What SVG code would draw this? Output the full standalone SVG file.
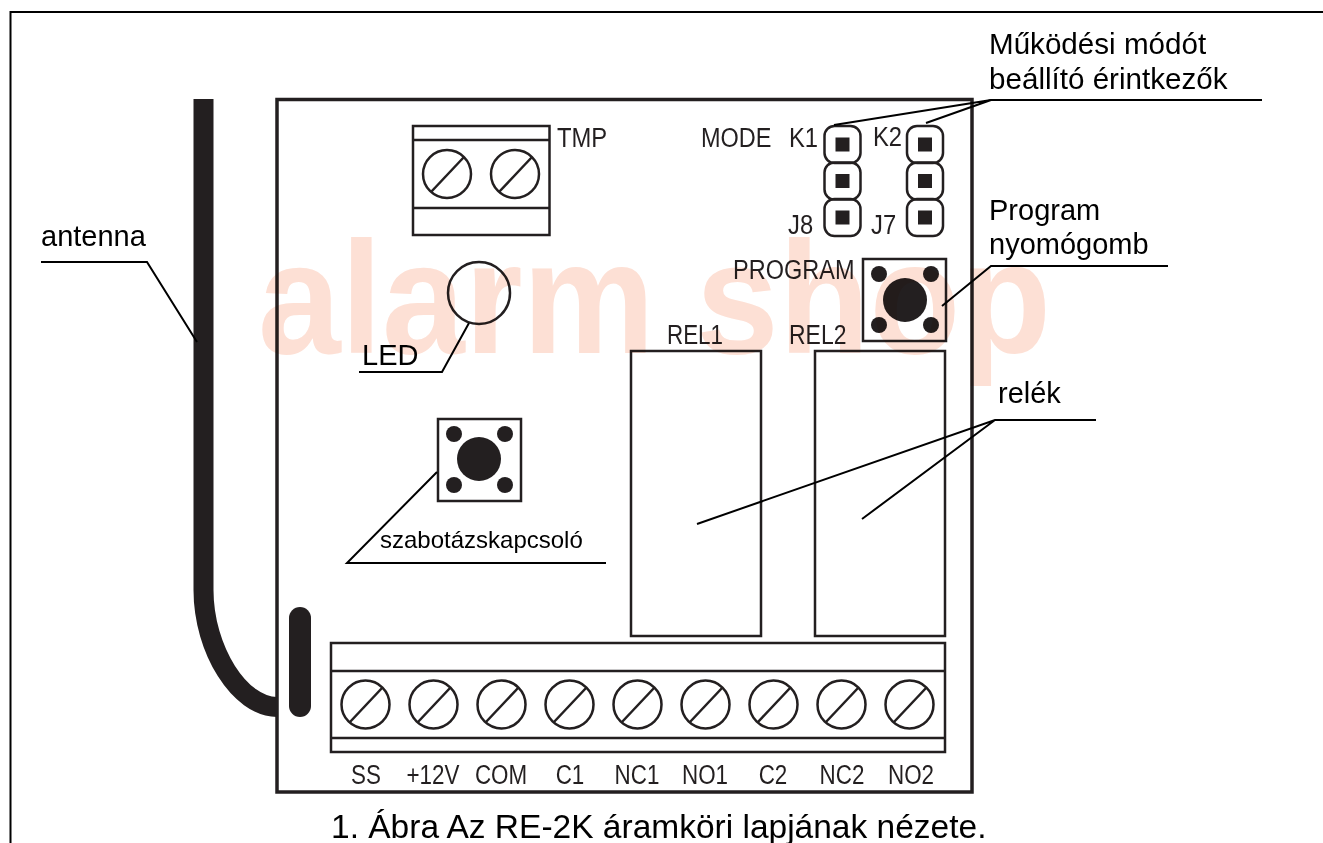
<svg xmlns="http://www.w3.org/2000/svg" width="1323" height="843" viewBox="0 0 1323 843">
<style>
.s{fill:none;stroke:#231f20;stroke-width:2.500}
.l{fill:none;stroke:#000;stroke-width:2}
.lb{font-family:"Liberation Sans",Arial,sans-serif;font-size:29px;fill:#000}
.p{font-family:"Liberation Sans",Arial,sans-serif;font-size:28px;fill:#231f20}
.d{fill:#231f20}
.pin{fill:none;stroke:#231f20;stroke-width:2.500}
</style>
<defs>
<g id="screw"><circle r="24" class="s"/><path d="M-16 18L17-17" class="s"/></g>
<g id="pin"><rect x="-18" y="-18.500" width="36" height="37" rx="10" class="pin"/><rect x="-7" y="-7" width="14" height="14" class="d"/></g>
</defs>
<rect width="1323" height="843" fill="#fff"/>
<path id="frame" d="M10.500 843V12H1323" fill="none" stroke="#000" stroke-width="2"/>
<g id="antenna"><path d="M203.500 99V590C203.500 650 240 707 277 707" fill="none" stroke="#231f20" stroke-width="20"/></g>
<g id="board"><rect x="277" y="99.500" width="695" height="692.500" fill="#fff" stroke="#231f20" stroke-width="3.500"/><rect x="289" y="607" width="22" height="110" rx="11" class="d"/></g>
<g id="tmp-terminal"><rect x="413" y="126" width="136.500" height="109" class="s"/><path d="M413 140H549M413 208H549" class="s"/><use href="#screw" x="447" y="174"/><use href="#screw" x="515" y="174"/><text class="p" transform="translate(557 147) scale(.85 1)">TMP</text></g>
<g id="led"><circle cx="479" cy="293" r="31" class="s"/></g>
<g id="tamper"><rect x="438" y="419" width="83" height="82" class="s"/><circle cx="479" cy="459" r="22" class="d"/><circle cx="454" cy="434" r="8" class="d"/><circle cx="505" cy="434" r="8" class="d"/><circle cx="454" cy="485" r="8" class="d"/><circle cx="505" cy="485" r="8" class="d"/></g>
<g id="mode"><text class="p" transform="translate(701 147) scale(.84 1)">MODE</text><text class="p" transform="translate(789 147) scale(.85 1)">K1</text><text class="p" transform="translate(873 146) scale(.85 1)">K2</text><text class="p" transform="translate(788 234) scale(.85 1)">J8</text><text class="p" transform="translate(871 234) scale(.85 1)">J7</text>
<use href="#pin" x="842.500" y="144.500"/><use href="#pin" x="842.500" y="181"/><use href="#pin" x="842.500" y="217.500"/><use href="#pin" x="925" y="144.500"/><use href="#pin" x="925" y="181"/><use href="#pin" x="925" y="217.500"/></g>
<g id="program"><text class="p" transform="translate(733 279) scale(.84 1)">PROGRAM</text><rect x="863" y="259" width="83" height="82" class="s"/><circle cx="905" cy="300" r="22" class="d"/><circle cx="879" cy="274" r="8" class="d"/><circle cx="931" cy="274" r="8" class="d"/><circle cx="879" cy="325" r="8" class="d"/><circle cx="931" cy="325" r="8" class="d"/></g>
<g id="rel1"><text class="p" transform="translate(667 344) scale(.8 1)">REL1</text><rect x="631" y="351" width="130" height="285" class="s"/></g>
<g id="rel2"><text class="p" transform="translate(789 344) scale(.82 1)">REL2</text><rect x="815" y="351" width="130" height="285" class="s"/></g>
<g id="terminal"><rect x="331" y="643" width="614" height="109" class="s"/><path d="M331 671H945M331 738H945" class="s"/>
<use href="#screw" x="365.500" y="704.500"/><use href="#screw" x="433.500" y="704.500"/><use href="#screw" x="501.500" y="704.500"/><use href="#screw" x="569.500" y="704.500"/><use href="#screw" x="637.500" y="704.500"/><use href="#screw" x="705.500" y="704.500"/><use href="#screw" x="773.500" y="704.500"/><use href="#screw" x="841.500" y="704.500"/><use href="#screw" x="909.500" y="704.500"/>
<g class="p" text-anchor="middle"><text transform="translate(366 784) scale(.8 1)">SS</text><text transform="translate(433 784) scale(.8 1)">+12V</text><text transform="translate(501 784) scale(.8 1)">COM</text><text transform="translate(570 784) scale(.8 1)">C1</text><text transform="translate(637 784) scale(.8 1)">NC1</text><text transform="translate(705 784) scale(.8 1)">NO1</text><text transform="translate(773 784) scale(.8 1)">C2</text><text transform="translate(842 784) scale(.8 1)">NC2</text><text transform="translate(911 784) scale(.8 1)">NO2</text></g></g>
<g id="connectors">
<path class="l" d="M1262 100H991L834 125M991 100L926 123"/>
<path class="l" d="M1168 266H991L942 306"/>
<path class="l" d="M1096 420H995L697 524M995 420L862 519"/>
<path class="l" d="M41 262H147L197 342"/>
<path class="l" d="M359 372H442L469 323"/>
<path class="l" d="M606 563H347L437 472"/>
</g>
<g id="labels">
<text class="lb" style="font-size:29.600px" x="989" y="54">Működési módót</text><text class="lb" style="font-size:29.600px" x="989" y="89">beállító érintkezők</text>
<text class="lb" x="989" y="220">Program</text><text class="lb" x="989" y="254">nyomógomb</text>
<text class="lb" x="998" y="403">relék</text><text class="lb" x="41" y="246">antenna</text><text class="lb" x="362" y="365">LED</text>
<text class="lb" style="font-size:24px" x="380" y="548">szabotázskapcsoló</text>
<text class="lb" style="font-size:33.500px" x="331" y="838">1. Ábra Az RE-2K áramköri lapjának nézete.</text>
</g>
<text id="watermark" transform="translate(258 353) scale(.935 1)" style="font-family:'Liberation Sans',Arial,sans-serif;font-weight:bold;font-size:159px;fill:#fde0d5;mix-blend-mode:multiply">alarm shop</text>
</svg>
